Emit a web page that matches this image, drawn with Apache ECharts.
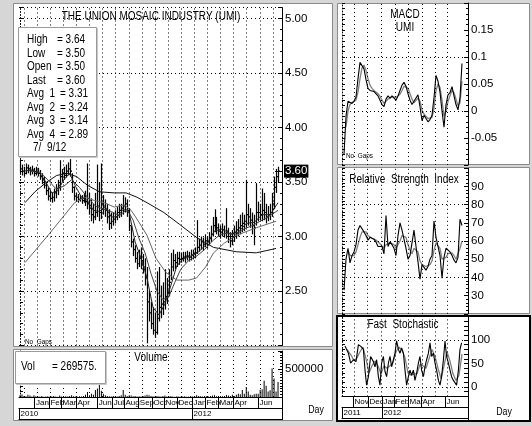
<!DOCTYPE html>
<html><head><meta charset="utf-8">
<script src="https://cdn.jsdelivr.net/npm/echarts@6/dist/echarts.min.js"></script>
<style>html,body{margin:0;padding:0;background:#d6d6d6}#c{width:532px;height:426px}</style>
</head><body><div id="c"></div><script>
const FONT = "'Liberation Sans Narrow','Arial Narrow','Liberation Sans',sans-serif";

// ---- main price bars (one bar per ~3 trading days) ----
const lows = [3.58,3.56,3.55,3.57,3.58,3.56,3.57,3.55,3.56,3.55,3.52,3.48,3.44,
 3.38,3.33,3.32,3.31,3.32,3.35,3.38, 3.42,3.50,3.52,3.54,3.56,3.55, 3.40,3.33,
 3.32,3.31,3.32,3.30,3.31,3.28,3.25,3.20, 3.14,3.12,3.15,3.18,3.14,3.16, 3.20,3.18,3.12,3.06,
 3.07,3.10,3.12,3.15,3.17, 3.18,3.20,3.22,3.18, 3.05,2.90,2.82,2.76,2.70,2.72, 2.70,2.66,2.55,2.02,
 2.22,2.15,2.10,2.07,2.10, 2.22,2.25,2.28,2.33,2.38,2.45, 2.60,2.68,2.70,2.72,2.74,
 2.76,2.77,2.76,2.78,2.77,2.78,2.79,2.80, 2.84,2.86,2.88,2.87,2.90,2.89,2.92,2.95,
 3.00,3.04,3.02, 3.00,2.98,3.00,2.99,2.98, 2.94,2.90,2.92,2.95,2.98, 3.00,3.02,3.04,3.05, 3.08,
 3.10,3.08,3.02,2.92, 3.10, 3.14,3.15,3.14,3.15,3.12,3.14, 3.15,3.18,3.25, 3.40,3.50];
const highs = [3.70,3.66,3.64,3.67,3.66,3.64,3.65,3.63,3.64,3.63,3.61,3.58,3.55,
 3.50,3.45,3.42,3.40,3.44,3.48,3.52, 3.70,3.62,3.64,3.66,3.68,3.71, 3.58,3.46,
 3.40,3.39,3.38,3.38,3.40,3.42,3.67,3.40, 3.35,3.30,3.40,3.66,3.50,3.67, 3.38,3.34,3.30,3.25,
 3.22,3.22,3.24,3.27,3.30, 3.30,3.38,3.36,3.34, 3.26,3.10,2.98,2.92,2.86,2.88, 2.90,2.84,2.80,2.72,
 2.50,2.40,2.35,2.30,2.68, 2.72,2.55,2.58,2.70,2.62,2.70, 2.85,2.88,2.84,2.86,2.86,
 2.85,2.86,2.86,2.87,2.86,2.88,2.88,2.90, 3.15,2.98,3.00,2.99,3.02,3.00,3.04,3.10,
 3.18,3.25,3.18, 3.12,3.10,3.12,3.10,3.26, 3.08,3.04,3.06,3.10,3.14, 3.16,3.20,3.22,3.20, 3.52,
 3.30,3.26,3.22,3.20, 3.49, 3.32,3.30,3.44,3.40,3.30,3.28, 3.30,3.40,3.55, 3.62,3.64];
const closes = [3.62,3.60,3.58,3.63,3.62,3.60,3.61,3.58,3.60,3.58,3.55,3.52,3.47,
 3.42,3.37,3.35,3.36,3.40,3.44,3.47, 3.55,3.58,3.56,3.60,3.62,3.60, 3.45,3.37,
 3.36,3.34,3.35,3.33,3.36,3.32,3.30,3.26, 3.20,3.18,3.22,3.28,3.22,3.30, 3.28,3.24,3.18,3.12,
 3.14,3.16,3.18,3.22,3.24, 3.26,3.28,3.30,3.24, 3.10,2.95,2.88,2.80,2.75,2.80, 2.78,2.72,2.62,2.40,
 2.30,2.20,2.14,2.12,2.25, 2.35,2.38,2.40,2.45,2.50,2.58, 2.72,2.78,2.76,2.80,2.79,
 2.80,2.81,2.82,2.82,2.81,2.83,2.84,2.85, 2.90,2.92,2.95,2.93,2.96,2.95,2.98,3.02,
 3.10,3.14,3.08, 3.05,3.04,3.06,3.03,3.05, 3.00,2.96,3.00,3.04,3.06, 3.08,3.10,3.12,3.14, 3.20,
 3.18,3.15,3.10,3.08, 3.22, 3.22,3.20,3.24,3.22,3.18,3.20, 3.22,3.30,3.45, 3.55,3.60];
const volumes = [30000,45000,20000,15000,40000,25000,10000,30000,15000,5000,
 10000,20000,5000,10000,15000,5000,10000,20000,10000,5000,
 25000,10000,5000,15000,10000,20000,30000,15000,10000,5000,
 15000,10000,20000,40000,90000,30000,60000,40000,125000,150000,
 230000,110000,60000,30000,20000,15000,10000,20000,15000,10000,
 20000,30000,125000,40000,20000,30000,25000,15000,20000,10000,
 15000,10000,20000,25000,40000,30000,20000,15000,10000,20000,
 15000,10000,20000,25000,10000,15000,20000,10000,5000,15000,
 10000,5000,10000,15000,5000,10000,20000,10000,15000,30000,
 20000,15000,10000,20000,15000,10000,20000,25000,30000,15000,
 20000,10000,15000,20000,35000,25000,20000,40000,20000,40000,
 60000,50000,125000,60000,180000,100000,40000,30000,50000,60000,
 60000,130000,140000,290000,200000,100000,120000,510000,330000,100000,269575];

// moving averages [bar, price]
const avg1 = [[2,3.60],[6,3.61],[10,3.58],[13,3.50],[16,3.40],[19,3.42],[22,3.52],[25,3.58],[28,3.46],[31,3.36],
 [34,3.33],[37,3.24],[40,3.23],[43,3.27],[46,3.18],[49,3.18],[52,3.25],[55,3.22],[58,2.95],[61,2.80],[64,2.62],
 [67,2.35],[70,2.28],[73,2.38],[76,2.55],[79,2.73],[82,2.79],[86,2.82],[90,2.86],[94,2.93],[98,3.05],[102,3.07],
 [106,3.02],[110,3.04],[114,3.12],[118,3.13],[122,3.20],[126,3.20],[130,3.31]];
const avg2 = [[5,3.60],[10,3.59],[14,3.52],[18,3.44],[22,3.46],[26,3.52],[30,3.45],[34,3.36],[38,3.28],[42,3.25],
 [46,3.23],[50,3.19],[54,3.25],[57,3.15],[60,2.98],[63,2.85],[66,2.66],[69,2.50],[72,2.42],[75,2.45],[78,2.58],
 [81,2.70],[85,2.78],[89,2.82],[93,2.88],[97,2.96],[101,3.02],[105,3.03],[109,3.02],[113,3.07],[117,3.10],
 [121,3.14],[125,3.18],[130,3.24]];
const avg3 = [[2.5,2.76],[15,3.03],[27.5,3.31],[32.5,3.36],[37.5,3.33],[42.5,3.31],[47.5,3.27],[52.5,3.29],[56,3.24],
 [60,3.13],[64,3.01],[68.5,2.80],[73.5,2.67],[79,2.60],[85,2.60],[89,2.62],[93.5,2.72],[97.5,2.85],[103,2.94],
 [109,3.01],[119,3.08],[129,3.14]];
const avg4 = [[2.5,3.31],[7.5,3.41],[13.5,3.50],[18.5,3.56],[23.5,3.58],[28.5,3.55],[34,3.47],[40,3.41],[47.5,3.40],
 [53.5,3.40],[59,3.36],[64,3.31],[72.5,3.22],[80.5,3.11],[89,2.99],[97.5,2.90],[109,2.86],[119,2.85],[124,2.87],[129,2.89]];

const monthNames = ['Jan','Feb','Mar','Apr','Jun','Jul','Aug','Sep','Oct','Nov','Dec','Jan','Feb','Mar','Apr','Jun'];
const monthPos = [7.3,14.6,20.7,28.2,38.9,46.5,52.4,59.6,66.5,72.5,79.1,86.7,93.2,99.8,107.3,119.9];
const yearNames = ['2010','2012'];
const yearPos = [-0.5,86.7];
const gridXMain = [2,8.6,15.2,21.8,28.4,35,41.6,48.2,54.8,61.4,68,74.6,81.2,87.8,94.4,101,107.6,114.2,120.8,127.4];

// ---- right-hand indicator panels ----
const macdLine = [null,-0.08,-0.01,0.018,0.02,0.014,0.018,0.026,0.06,0.09,0.088,0.078,0.058,0.042,0.038,0.036,0.036,
 0.033,0.028,0.02,0.012,0.008,0.022,0.028,0.024,0.028,0.03,0.02,0.028,0.038,0.048,0.053,0.046,0.032,0.02,0.012,0.01,
 0.024,0.03,0.008,-0.018,-0.008,-0.01,-0.02,-0.016,-0.008,0.025,0.066,0.055,0.035,0.0,-0.03,0.012,0.03,0.034,0.045,
 0.028,0.012,0.002,0.025,0.088];
const macdSignal = [null,null,-0.03,0.0,0.012,0.016,0.017,0.02,0.035,0.06,0.08,0.085,0.075,0.06,0.048,0.042,0.038,0.036,
 0.032,0.027,0.02,0.014,0.016,0.022,0.025,0.026,0.028,0.025,0.026,0.031,0.038,0.046,0.048,0.042,0.032,0.022,0.015,
 0.018,0.024,0.018,0.002,-0.006,-0.008,-0.014,-0.016,-0.012,0.005,0.038,0.05,0.044,0.02,-0.01,0.0,0.018,0.028,0.038,
 0.034,0.022,0.01,0.015,0.055];
const rsiLine = [null,33,50,56,48,52,54,58,66,68.5,67.5,65,63,60.5,62,61,61,59.5,57,56,57,53,74,57,59.5,58,56,52,63,70,
 66,65,56,50,52,53,66,57,48.5,39,47,47,44,46,50,52,71,62,57,52,39.5,51,56,56,54,52,49.5,48,51,72,68.5];
const rsiSignal = [null,null,null,55,52,51,52,54,58,62,65,66,65,63,62,61.5,61,60.5,59.5,58.5,57.5,56,58,59,59,58.5,58,
 56,57,60,63,64,62,58,55,53,56,57,54,49,47,47,46,46,47,49,55,59,58,56,50,49,51,53,54,53.5,52,50,50,56,60];
const stochK = [[1.5,87],[3.2,72],[4.3,51],[5.7,58],[7,54],[8.2,90],[9.3,87],[10.7,80],[11.5,36],[12.3,4],[13.2,22],
 [14.3,65],[15.7,54],[16.5,43],[17.3,58],[18.2,22],[19,4],[19.8,51],[20.7,65],[21.5,33],[22.3,22],[23.2,51],[24,65],
 [24.8,43],[25.7,58],[26.5,72],[27.3,98],[28.2,80],[29,72],[29.8,83],[30.7,72],[31.5,36],[32.3,4],[33.2,22],[34,36],
 [34.8,25],[35.7,36],[36.5,14],[37.3,29],[38.2,51],[39,65],[39.8,36],[40.7,22],[41.5,43],[42.3,58],[43.2,72],[44,94],
 [44.8,65],[45.7,72],[46.5,51],[47.3,36],[48.2,14],[49,4],[49.8,22],[50.7,58],[51.5,98],[52.3,65],[53.2,51],[54,36],
 [54.8,22],[55.7,14],[56.5,18],[57.3,4],[58.2,36],[59,80],[59.8,94]];
const stochD = [[2.5,80],[4.5,68],[6,56],[7.5,62],[9,75],[10.5,85],[12,60],[13.5,30],[15,45],[16.5,55],[18,45],[19.5,28],
 [21,45],[22.5,40],[24,45],[25.5,52],[27,75],[28.5,85],[30,78],[31.5,62],[33,30],[34.5,25],[36,28],[37.5,28],[39,48],
 [40.5,45],[42,40],[43.5,60],[45,80],[46.5,65],[48,40],[49.5,18],[51,45],[52.5,75],[54,55],[55.5,28],[57,14],[58.5,25],[60,70]];
const rMonthNames = ['Nov','Dec','Jan','Feb','Mar','Apr','Jun'];
const rMonthPos = [5.5,13,20,26,33,39.5,51.5];
const rYearNames = ['2011','2012'];
const rYearPos = [0,20];
const gridXRight = [6,12.8,19.8,26.5,33,40,46.5,52.7];

const DOT = {color:'#000', type:[1,3], width:1};
const vLines = arr => arr.map(v => ({xAxis: v}));
const hLines = arr => arr.map(v => ({yAxis: v}));
const gridML = data => ({silent:true, symbol:['none','none'], label:{show:false}, lineStyle:DOT, animation:false, data});
const AXFONT = "'Liberation Sans',sans-serif";

function leftAxis(grid, min, max, interval){
  return {type:'value', gridIndex:grid, position:'left', min, max, interval,
    axisLine:{show:true, lineStyle:{color:'#000', type:[1,2]}},
    axisTick:{show:true, inside:true, length:3, lineStyle:{color:'#000'}},
    axisLabel:{show:false}, splitLine:{show:false}};
}
function rightAxis(grid, min, max, interval, fmt, minor){
  return {type:'value', gridIndex:grid, position:'right', min, max, interval,
    axisLine:{show:true, onZero:false, lineStyle:{color:'#000'}},
    axisTick:{show:true, inside:true, length:4, lineStyle:{color:'#000'}},
    minorTick:{show:!!minor, splitNumber:minor||5, length:2, lineStyle:{color:'#000'}},
    axisLabel:{show:true, formatter:fmt, margin:3, color:'#000', fontFamily:AXFONT, fontSize:11.5},
    splitLine:{show:false}};
}
function dateAxis(grid, min, max, pos, names, offset, len){
  return {type:'value', gridIndex:grid, position:'bottom', offset, min, max,
    axisLine:{show:true, onZero:false, lineStyle:{color:'#000'}},
    axisTick:{show:true, inside:false, length:len, customValues:pos, lineStyle:{color:'#000'}},
    axisLabel:{show:!!names, customValues:pos, align:'left', margin:1.5, padding:[0,0,0,1.5], hideOverlap:false,
      showMinLabel:true, showMaxLabel:true,
      color:'#000', fontFamily:AXFONT, fontSize:8,
      formatter: v => { const k = pos.indexOf(v); return (names && k >= 0) ? names[k] : ''; }},
    splitLine:{show:false}};
}
function hiddenX(grid, min, max){
  return {type:'value', gridIndex:grid, min, max, show:false, splitLine:{show:false}};
}

const priceFmt = v => (v > 2.3 && v < 5.05 && Math.abs(v*2 - Math.round(v*2)) < 1e-6) ? v.toFixed(2) : '';

const option = {
  animation:false,
  backgroundColor:'transparent',
  grid:[
    {left:19, top:7.6, width:263, height:337.9},
    {left:19, top:351, width:263, height:46},
    {left:342, top:3, width:126, height:162},
    {left:342, top:168.2, width:126, height:145.6},
    {left:342, top:316.5, width:126, height:79.9}
  ],
  xAxis:[
    hiddenX(0,-0.5,132),
    dateAxis(1,-0.5,132,monthPos,monthNames,0,11),
    dateAxis(1,-0.5,132,yearPos,yearNames,11,11),
    dateAxis(1,-0.5,132,[],null,22,0),
    hiddenX(2,0,63),
    hiddenX(3,0,63),
    dateAxis(4,0,63,rMonthPos,rMonthNames,0,11),
    dateAxis(4,0,63,rYearPos,rYearNames,11,11),
    dateAxis(4,0,63,[],null,22,0)
  ],
  yAxis:[
    Object.assign(rightAxis(0,2,5.1,0.5,priceFmt,5), {splitLine:{show:true, lineStyle:DOT}}),
    leftAxis(0,2,5.1,0.1),
    rightAxis(1,0,820000,500000, v => v === 500000 ? '500000' : '', 10),
    leftAxis(1,0,820000,100000),
    rightAxis(2,-0.1,0.2,0.05, v => (v > -0.09 && v < 0.19) ? String(+v.toFixed(2)) : '', 5),
    leftAxis(2,-0.1,0.2,0.01),
    rightAxis(3,20,100,10, v => (v >= 30 && v <= 90) ? String(v) : '', 5),
    leftAxis(3,20,100,2),
    rightAxis(4,-20,150,10, v => (v === 0 || v === 50 || v === 100) ? String(v) : ''),
    leftAxis(4,-20,150,10)
  ],
  series:[
    {type:'custom', xAxisIndex:0, yAxisIndex:0, z:3,
     data: lows.map((l,i) => [i, l, highs[i], closes[i]]),
     encode:{x:0, y:[1,2]},
     renderItem:(params, api) => {
       const x = api.value(0);
       const pl = api.coord([x, api.value(1)]);
       const ph = api.coord([x, api.value(2)]);
       const pc = api.coord([x, api.value(3)]);
       const xx = Math.round(pl[0]) + 0.5;
       return {type:'group', children:[
         {type:'line', shape:{x1:xx, y1:pl[1], x2:xx, y2:ph[1]}, style:{stroke:'#000', lineWidth:1.2}},
         {type:'line', shape:{x1:xx, y1:pc[1], x2:xx+1.5, y2:pc[1]}, style:{stroke:'#000', lineWidth:1.2}}
       ]};
     }},
    {type:'line', xAxisIndex:0, yAxisIndex:0, data:avg4, symbol:'none', z:4,
     lineStyle:{color:'#111', width:1}, markLine:gridML(vLines(gridXMain))},
    {type:'line', xAxisIndex:0, yAxisIndex:0, data:avg3, symbol:'none', z:4, lineStyle:{color:'#666', width:1}},
    {type:'line', xAxisIndex:0, yAxisIndex:0, data:avg2, symbol:'none', z:4, lineStyle:{color:'#444', width:1}},
    {type:'line', xAxisIndex:0, yAxisIndex:0, data:avg1, symbol:'none', z:4, lineStyle:{color:'#222', width:1},
     markLine:{silent:true, symbol:['none','none'], animation:false, lineStyle:{color:'#000', type:'solid', width:1},
       label:{show:true, position:'end', formatter:'3.60', color:'#fff', backgroundColor:'#000',
         padding:[1,1,0,1], distance:2, fontFamily:AXFONT, fontSize:11.5},
       data:[[{coord:[128.5,3.60]},{coord:[132,3.60]}]]}},
    {type:'bar', xAxisIndex:1, yAxisIndex:2, data:volumes.map((v,i) => [i, v]), barWidth:1,
     itemStyle:{color:'#000'}, markLine:gridML(vLines(gridXMain))},
    {type:'line', xAxisIndex:4, yAxisIndex:4, data:macdSignal.map((v,j) => [j, v]), symbol:'none',
     lineStyle:{color:'#808080', width:1.3}, markLine:gridML(vLines(gridXRight).concat(hLines([0,0.1])))},
    {type:'line', xAxisIndex:4, yAxisIndex:4, data:macdLine.map((v,j) => [j, v]), symbol:'none',
     lineStyle:{color:'#000', width:1.1}},
    {type:'line', xAxisIndex:5, yAxisIndex:6, data:rsiSignal.map((v,j) => [j, v]), symbol:'none',
     lineStyle:{color:'#808080', width:1.3}, markLine:gridML(vLines(gridXRight).concat(hLines([40,60,80])))},
    {type:'line', xAxisIndex:5, yAxisIndex:6, data:rsiLine.map((v,j) => [j, v]), symbol:'none',
     lineStyle:{color:'#000', width:1.1}},
    {type:'line', xAxisIndex:6, yAxisIndex:8, data:stochD, symbol:'none',
     lineStyle:{color:'#808080', width:1.3}, markLine:gridML(vLines(gridXRight).concat(hLines([0,100])))},
    {type:'line', xAxisIndex:6, yAxisIndex:8, data:stochK, symbol:'none',
     lineStyle:{color:'#000', width:1.1}}
  ],
  graphic:[
    {type:'rect', z:-10, shape:{x:13.5,y:3.5,width:319,height:343}, style:{fill:'#fff', stroke:'#8a8a8a', lineWidth:1}},
    {type:'rect', z:-10, shape:{x:13.5,y:349.5,width:319,height:71}, style:{fill:'#fff', stroke:'#8a8a8a', lineWidth:1}},
    {type:'rect', z:-10, shape:{x:337.5,y:3.5,width:192,height:161}, style:{fill:'#fff', stroke:'#8a8a8a', lineWidth:1}},
    {type:'rect', z:-10, shape:{x:337.5,y:167.5,width:192,height:146}, style:{fill:'#fff', stroke:'#8a8a8a', lineWidth:1}},
    {type:'rect', z:-10, shape:{x:337,y:316,width:193,height:105}, style:{fill:'#fff', stroke:'#000', lineWidth:2}},
    {type:'line', z:10, shape:{x1:282.5,y1:397,x2:282.5,y2:420}, style:{stroke:'#000', lineWidth:1}},
    {type:'line', z:10, shape:{x1:468.5,y1:396,x2:468.5,y2:420}, style:{stroke:'#000', lineWidth:1}},
    // info boxes
    {type:'rect', z:50, shape:{x:18.5,y:27.5,width:78,height:129}, style:{fill:'#fff', stroke:'#9a9a9a', lineWidth:1}},
    {type:'polyline', z:51, shape:{points:[[97.5,28],[97.5,157.5],[19,157.5]]}, style:{stroke:'#c8c8c8', lineWidth:1, fill:null}},
    {type:'rect', z:50, shape:{x:15.5,y:351.5,width:90,height:32}, style:{fill:'#fff', stroke:'#9a9a9a', lineWidth:1}},
    {type:'polyline', z:51, shape:{points:[[106.5,352],[106.5,384.5],[16,384.5]]}, style:{stroke:'#c8c8c8', lineWidth:1, fill:null}}
  ].concat([
    ['THE UNION MOSAIC INDUSTRY (UMI)',151,17,'center',12.5],
    ['High',27,40,'left',12.5],['= 3.64',57,40,'left',12.5],
    ['Low',27,53.5,'left',12.5],['= 3.50',57,53.5,'left',12.5],
    ['Open',27,67,'left',12.5],['= 3.50',57,67,'left',12.5],
    ['Last',27,80.5,'left',12.5],['= 3.60',57,80.5,'left',12.5],
    ['Avg  1',27,94,'left',12.5],['= 3.31',60,94,'left',12.5],
    ['Avg  2',27,107.5,'left',12.5],['= 3.24',60,107.5,'left',12.5],
    ['Avg  3',27,121,'left',12.5],['= 3.14',60,121,'left',12.5],
    ['Avg  4',27,134.5,'left',12.5],['= 2.89',60,134.5,'left',12.5],
    ['7/  9/12',33,148,'left',12.5],
    ['No  Gaps',25,342,'left',8],
    ['No  Gaps',346,156,'left',8],
    ['Vol',21,367,'left',12.5],['= 269575.',52,367,'left',12.5],
    ['Volume',151,358,'center',12.5],
    ['MACD',405,15,'center',12.5],['UMI',405,28,'center',12.5],
    ['Relative  Strength  Index',404,180,'center',12.5],
    ['Fast  Stochastic',403,325,'center',12.5],
    ['Day',316,410,'center',11],['Day',504,412,'center',11]
  ].map(([t,x,y,al,fs]) => ({type:'text', z:60, x, y, scaleX:0.8,
     style:{text:t, font: fs + 'px ' + FONT, fill:'#000', align:al, textAlign:al, verticalAlign:'middle', textVerticalAlign:'middle'}})))
};
const chart = echarts.init(document.getElementById('c'), null, {renderer:'canvas'});
chart.setOption(option);
</script></body></html>
